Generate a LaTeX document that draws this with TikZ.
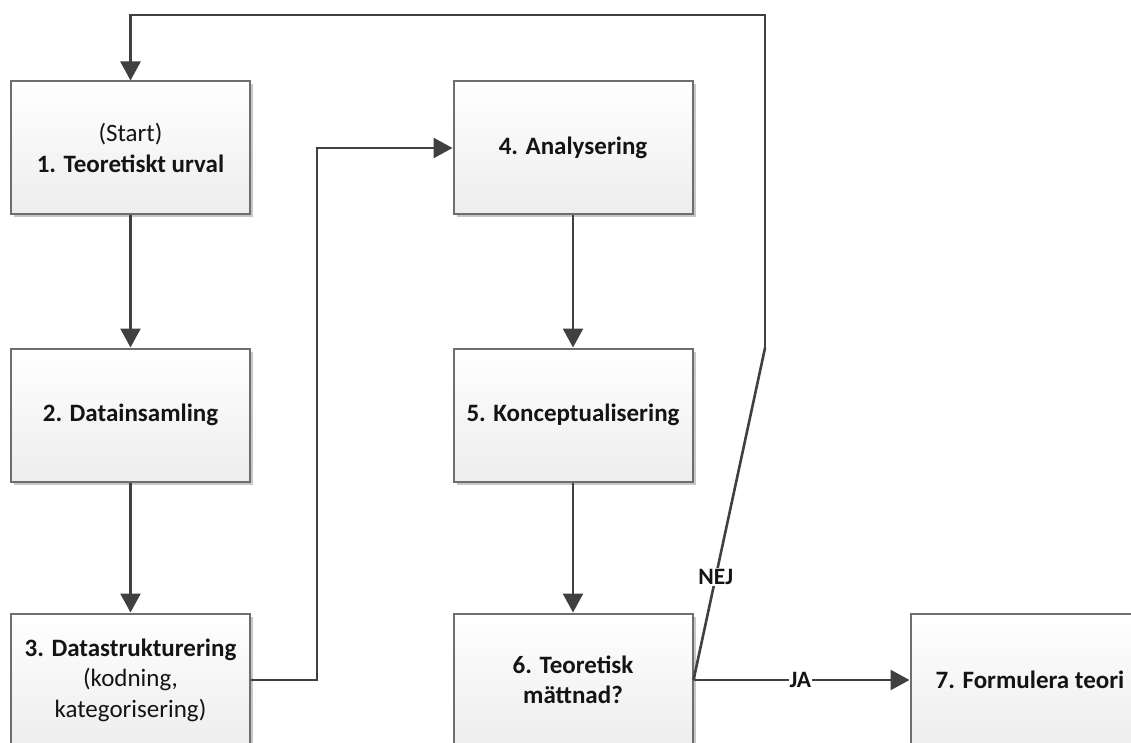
\documentclass[tikz,border=0pt]{standalone}
\usepackage{fontspec}
\setmainfont{Carlito}
\usetikzlibrary{arrows.meta,shadows}
\definecolor{edgegray}{HTML}{6E6E6E}
\definecolor{linegray}{HTML}{404040}
\definecolor{inkblack}{HTML}{141414}
\tikzset{
  stepbox/.style={draw=edgegray, line width=2pt, rectangle,
    minimum width=239pt, minimum height=133pt, inner sep=0pt,
    top color=white, bottom color=black!7,
    drop shadow={shadow xshift=3pt, shadow yshift=-3pt, opacity=0.22, fill=black},
    align=center, text=inkblack, font=\fontsize{25}{30.5}\selectfont},
  conn/.style={draw=linegray, line width=2.6pt,
    -{Triangle[length=19pt,width=20pt]}},
  plain/.style={draw=linegray, line width=2.6pt},
  tag/.style={fill=white, inner sep=1pt, text=inkblack,
    font=\fontsize{23.5}{28}\selectfont\bfseries}
}
\begin{document}
\begin{tikzpicture}[x=1pt,y=-1pt]
\useasboundingbox (0,0) rectangle (1131,743);
\clip (0,0) rectangle (1131,743);
\fill[white] (0,0) rectangle (1131,743);

% process steps
\node[stepbox] (b1) at (130.5,148) {(Start)\\\textbf{1. Teoretiskt urval}};
\node[stepbox] (b2) at (130.5,415) {\textbf{2. Datainsamling}};
\node[stepbox] (b3) at (130.5,680) {\textbf{3. Datastrukturering}\\(kodning,\\kategorisering)};
\node[stepbox] (b4) at (573,148) {\textbf{4. Analysering}};
\node[stepbox] (b5) at (573,415) {\textbf{5. Konceptualisering}};
\node[stepbox] (b6) at (573,680) {\textbf{6. Teoretisk}\\\textbf{mättnad?}};
\node[stepbox] (b7) at (1030,680) {\textbf{7. Formulera teori}};

% bend points of the routed connectors
\coordinate (k3) at (317,680);
\coordinate (n1) at (765,348);
\coordinate (n2) at (765,15);
\coordinate (n3) at (130.5,15);

% straight flow
\draw[conn] (b1.south) -- (b2.north);
\draw[conn] (b2.south) -- (b3.north);
\draw[conn] (b4.south) -- (b5.north);
\draw[conn] (b5.south) -- (b6.north);

% step 3 to step 4
\draw[conn] (b3.east) -- (k3) |- (b4.west);

% decision: yes
\draw[conn] (b6.east) -- node[tag, pos=0.495] {JA} (b7.west);

% decision: no, back to the start
\draw[plain] (b6.east) -- node[tag, pos=0.31] {NEJ} (n1);
\draw[conn] (n1) -- (n2) -- (n3) -- (b1.north);
\end{tikzpicture}
\end{document}
